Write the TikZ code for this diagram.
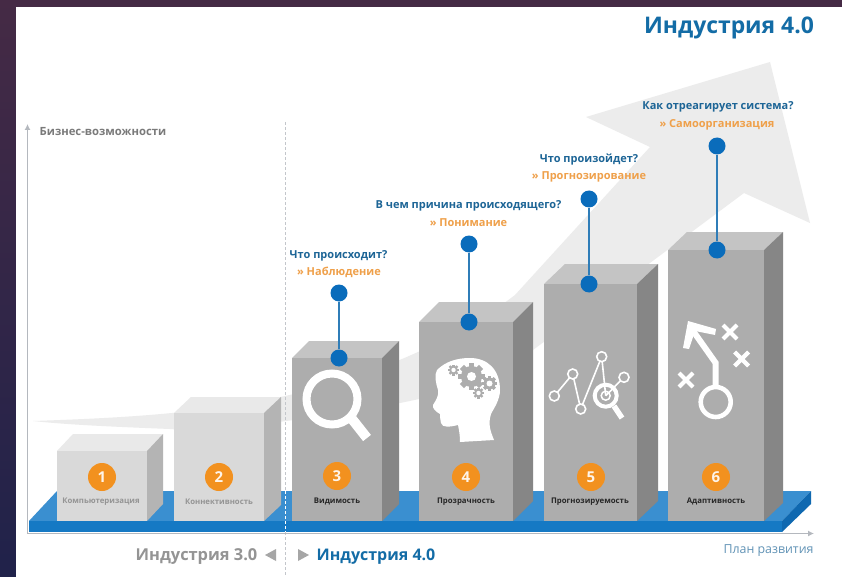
\documentclass[tikz,border=0pt]{standalone}
\usepackage{fontspec}
\setmainfont{Open Sans}
\usetikzlibrary{arrows.meta}
\definecolor{navy}{HTML}{20224A}
\definecolor{plum}{HTML}{452A45}
\definecolor{swoosh}{HTML}{ECECEC}
\definecolor{titleblue}{HTML}{136CA6}
\definecolor{qblue}{HTML}{1D6596}
\definecolor{aorange}{HTML}{EFA04A}
\definecolor{numorange}{HTML}{F2911F}
\definecolor{dotblue}{HTML}{0A6CBB}
\definecolor{stemblue}{HTML}{2F7DB8}
\definecolor{plattop}{HTML}{3A8FD0}
\definecolor{platfront}{HTML}{1579C4}
\definecolor{platside}{HTML}{0F68B0}
\definecolor{axisgray}{HTML}{B4B8BE}
\definecolor{lightfront}{HTML}{D9D9D9}
\definecolor{lighttop}{HTML}{E9E9E9}
\definecolor{lightside}{HTML}{B4B4B4}
\definecolor{darkfront}{HTML}{ADADAD}
\definecolor{darktop}{HTML}{C4C4C4}
\definecolor{darkside}{HTML}{868686}
\tikzset{
  txt/.style={inner sep=0pt,outer sep=0pt,anchor=center},
  question/.style={txt,text=qblue,font=\fontsize{11}{13}\selectfont\bfseries},
  answer/.style={txt,text=aorange,font=\fontsize{11}{13}\selectfont\bfseries},
  numdot/.style={circle,fill=numorange,minimum size=28pt,inner sep=0pt,text=white!90!numorange,font=\fontsize{15}{16}\selectfont\bfseries},
  bluedot/.style={circle,fill=dotblue,minimum size=17pt,inner sep=0pt},
  stem/.style={stemblue,line width=1.5pt},
  boxlabel/.style={txt,font=\fontsize{7.8}{9}\selectfont\bfseries},
  cx/.style={white,line width=4.2pt}
}
\newcommand{\cube}[9]{% name, x1, x2, ytop, dx, dy, front, top, side
  \fill[#8] (#2,#4) -- ({#2+#5},{#4-#6}) -- ({#3+#5},{#4-#6}) -- (#3,#4) -- cycle;
  \fill[#9] (#3,#4) -- ({#3+#5},{#4-#6}) -- ({#3+#5},{521-#6}) -- (#3,521) -- cycle;
  \node[fill=#7,inner sep=0pt,outer sep=0pt,anchor=south west,minimum width={(#3-#2)*1pt},minimum height={(521-#4)*1pt}] (#1) at (#2,521) {};
}
\newcommand{\gear}[4]{% x,y,radius,hole
  \foreach \a in {0,45,...,315}{
    \fill[darkfront,rotate around={\a:(#1,#2)}] ({#1-#3*0.22},#2) rectangle ({#1+#3*0.22},{#2-#3});
  }
  \fill[darkfront] (#1,#2) circle ({#3*0.78});
  \fill[white] (#1,#2) circle (#4);
}
\newcommand{\crossmark}[3]{\draw[cx] ({#1-#3},{#2-#3}) -- ({#1+#3},{#2+#3}) ({#1-#3},{#2+#3}) -- ({#1+#3},{#2-#3});}
\begin{document}
\begin{tikzpicture}[x=1pt,y=-1pt]
\useasboundingbox (0,0) rectangle (842,577);
% frame
\shade[top color=plum,bottom color=navy] (0,0) rectangle (842,577);
\fill[plum] (0,0) rectangle (842,7);
\fill[white] (16,7) rectangle (842,577);
% swoosh arrow
\fill[swoosh] (33,421) .. controls (120,418) and (200,414) .. (285,396)
  .. controls (360,380) and (450,345) .. (515,295)
  -- (650,147) -- (586,117) -- (770,62) -- (810,223) -- (744,193) -- (533,350)
  .. controls (480,385) and (440,395) .. (400,403)
  .. controls (300,422) and (200,432) .. (170,429)
  .. controls (120,427) and (70,425) .. (33,421) -- cycle;
% divider
\draw[axisgray!80,densely dashed,line width=.8pt] (285,122) -- (285,575);
% platform
\fill[plattop] (29,521) -- (57,491) -- (811,491) -- (782,521) -- cycle;
\fill[platside] (782,521) -- (811,491) -- (811,504) -- (782,532) -- cycle;
\fill[platfront] (29,521) rectangle (782,532);
\draw[white,densely dashed,line width=.8pt] (285,491) -- (285,532);
% axes
\coordinate (origin) at (27.5,533.5);
\coordinate (axtop) at (27.5,124);
\coordinate (axright) at (814,533.5);
\draw[axisgray,line width=1.6pt,-{Latex[length=6pt,width=6pt]}] (origin) -- (axtop);
\draw[axisgray,line width=1.6pt,-{Latex[length=6pt,width=6pt]}] (origin) -- (axright);
% cubes
\cube{box1}{57}{147}{451}{16}{17}{lightfront}{lighttop}{lightside}
\cube{box2}{174}{264}{413}{17}{16}{lightfront}{lighttop}{lightside}
\cube{box3}{292}{382}{358}{17}{17}{darkfront}{darktop}{darkside}
\cube{box4}{419}{513}{322}{20}{20}{darkfront}{darktop}{darkside}
\cube{box5}{544}{637}{284}{21}{20}{darkfront}{darktop}{darkside}
\cube{box6}{668}{764}{250}{19}{18}{darkfront}{darktop}{darkside}
% number dots
\node[numdot] (n1) at (102,477) {1};
\node[numdot] (n2) at (219,477) {2};
\node[numdot] (n3) at (337,476) {3};
\node[numdot] (n4) at (466,477) {4};
\node[numdot] (n5) at (591,477) {5};
\node[numdot] (n6) at (716,477) {6};
% box labels
\node[boxlabel,text=black!42] (l1) at (101,501.5) {Компьютеризация};
\node[boxlabel,text=black!42] (l2) at (219,501.5) {Коннективность};
\node[boxlabel,text=black!85] (l3) at (337,501.5) {Видимость};
\node[boxlabel,text=black!85] (l4) at (466,501.5) {Прозрачность};
\node[boxlabel,text=black!85] (l5) at (590,501.5) {Прогнозируемость};
\node[boxlabel,text=black!85] (l6) at (716,501.5) {Адаптивность};
% magnifier icon
\draw[white,line width=8pt] (332,399) circle (25.5);
\draw[white,line width=10pt] (352,419) -- (367,438);
% head icon
\fill[white] (437,370) .. controls (445,362) and (456,358) .. (470,358)
  .. controls (488,358) and (500,370) .. (500,390)
  .. controls (500,400) and (494,408) .. (491,414)
  .. controls (488,424) and (490,430) .. (494,440)
  -- (460,442) .. controls (460,435) and (459,430) .. (458,425)
  .. controls (450,427) and (442,428) .. (441,423)
  .. controls (440,418) and (440,416) .. (440,414)
  .. controls (436,412) and (432,408) .. (433,405)
  .. controls (436,400) and (439,396) .. (438,390)
  .. controls (436,384) and (434,375) .. (437,370) -- cycle;
\gear{471.5}{376.5}{13.5}{4.5}
\gear{489.5}{383.5}{7.5}{3}
\gear{453.5}{370}{5.5}{2.2}
\gear{478.5}{393}{5.5}{2.2}
% chart icon
\draw[white,line width=1.6pt] (554.3,396) -- (572.7,374) (572.7,374) -- (580.7,409) (580.7,409) -- (601.7,356.7) (601.7,356.7) -- (605.7,395.7) (605.7,395.7) -- (624,377.3);
\foreach \px/\py in {554.3/396,572.7/374,580.7/409,601.7/356.7,624/377.3}{
  \filldraw[fill=darkfront,draw=white,line width=1.6pt] (\px,\py) circle (5);
}
\draw[white,line width=4pt] (605.7,395.7) circle (11);
\draw[white,line width=1.5pt] (605.7,395.7) circle (4.5);
\draw[white,line width=5.5pt] (614,406) -- (622,418);
% tactics icon
\draw[white,line width=4.6pt] (715.7,402) circle (15);
\draw[white,line width=6pt,line join=miter] (715.7,387) -- (715.7,363) -- (691,328);
\fill[white] (683,348) -- (688,321) -- (716,329) -- (715,335) -- (695,331) -- (689,349) -- cycle;
\crossmark{730}{332}{7}
\crossmark{741.7}{359}{7}
\crossmark{686}{380}{7}
% blue dots and stems
\node[bluedot] (a3) at (339,293) {};
\node[bluedot] (b3) at (339,358) {};
\node[bluedot] (a4) at (469,244) {};
\node[bluedot] (b4) at (469,322) {};
\node[bluedot] (a5) at (589,199) {};
\node[bluedot] (b5) at (589,284) {};
\node[bluedot] (a6) at (717,146) {};
\node[bluedot] (b6) at (717,250) {};
\draw[stem] (a3) -- (b3);
\draw[stem] (a4) -- (b4);
\draw[stem] (a5) -- (b5);
\draw[stem] (a6) -- (b6);
% questions
\node[question] (q6) at (718,106.5) {Как отреагирует система?};
\node[answer] (r6) at (717,124.5) {» Самоорганизация};
\node[question] (q5) at (589,159.5) {Что произойдет?};
\node[answer] (r5) at (589,176.5) {» Прогнозирование};
\node[question] (q4) at (468.5,205.5) {В чем причина происходящего?};
\node[answer] (r4) at (468.5,222.5) {» Понимание};
\node[question] (q3) at (338.5,255.5) {Что происходит?};
\node[answer] (r3) at (339,272.5) {» Наблюдение};
% titles
\node[txt,text=titleblue,font=\fontsize{22.9}{26}\selectfont\bfseries] (title) at (729,27.5) {Индустрия 4.0};
\node[txt,text=black!52,font=\fontsize{11.3}{13}\selectfont\bfseries] (ylabel) at (103,132) {Бизнес-возможности};
\node[txt,text=black!42,font=\fontsize{16.4}{19}\selectfont\bfseries] (ind3) at (196.5,557) {Индустрия 3.0};
\node[txt,text=titleblue,font=\fontsize{16}{19}\selectfont\bfseries] (ind4) at (376,557) {Индустрия 4.0};
\fill[black!35] (276,549) -- (276,561) -- (265,555) -- cycle;
\fill[black!35] (298,549) -- (298,561) -- (309,555) -- cycle;
\node[txt,text=qblue!70,font=\fontsize{12.4}{14}\selectfont] (plan) at (768.5,551) {План развития};
\end{tikzpicture}
\end{document}
